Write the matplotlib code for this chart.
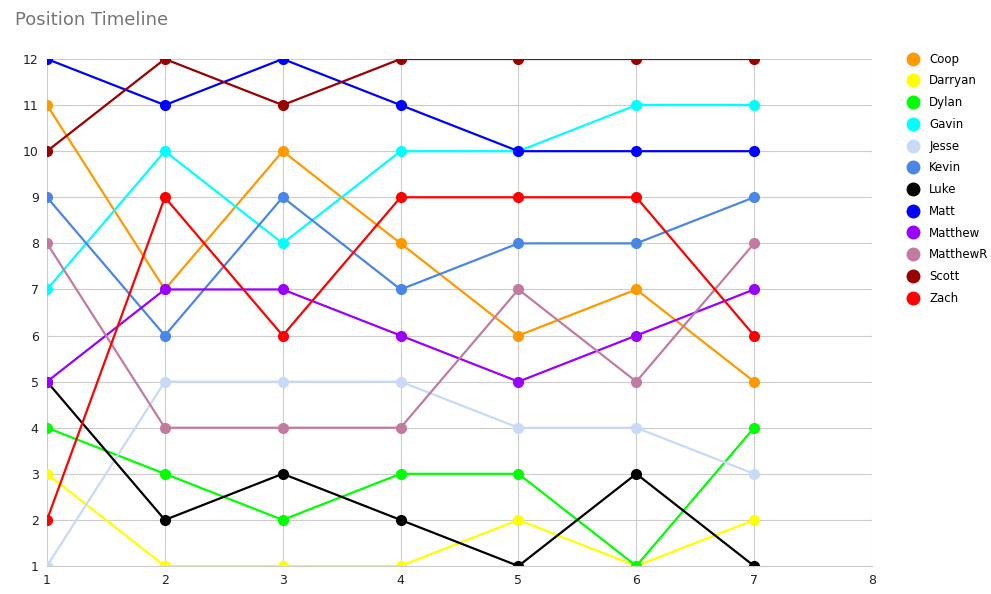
import matplotlib
matplotlib.use("Agg")
import matplotlib.pyplot as plt
from matplotlib.lines import Line2D

weeks = [1, 2, 3, 4, 5, 6, 7]
names = ["Coop", "Darryan", "Dylan", "Gavin", "Jesse", "Kevin",
         "Luke", "Matt", "Matthew", "MatthewR", "Scott", "Zach"]
colors = ["#ff9900", "#ffff00", "#00ff00", "#00ffff", "#c9daf8", "#4a86e8",
          "#000000", "#0000ff", "#9900ff", "#c27ba0", "#990000", "#ff0000"]

coop = [11, 7, 10, 8, 6, 7, 5]
darryan = [3, 1, 1, 1, 2, 1, 2]
dylan = [4, 3, 2, 3, 3, 1, 4]
gavin = [7, 10, 8, 10, 10, 11, 11]
jesse = [1, 5, 5, 5, 4, 4, 3]
kevin = [9, 6, 9, 7, 8, 8, 9]
luke = [5, 2, 3, 2, 1, 3, 1]
matt = [12, 11, 12, 11, 10, 10, 10]
matthew = [5, 7, 7, 6, 5, 6, 7]
matthewr = [8, 4, 4, 4, 7, 5, 8]
scott = [10, 12, 11, 12, 12, 12, 12]
zach = [2, 9, 6, 9, 9, 9, 6]

series = [coop, darryan, dylan, gavin, jesse, kevin,
          luke, matt, matthew, matthewr, scott, zach]

fig = plt.figure(figsize=(9.91, 5.94), dpi=100)
ax = fig.add_axes([47/991, 1 - 566/594, (872 - 47)/991, (566 - 59)/594])

for name, vals, c in zip(names, series, colors):
    ax.plot(weeks, vals, color=c, lw=1.6, marker="o", markersize=7, label=name)

ax.set_xlim(1, 8)
ax.set_ylim(1, 12)
ax.set_xticks(range(1, 9))
ax.set_yticks(range(1, 13))
ax.grid(True, color="#cccccc", lw=0.8)
ax.set_axisbelow(True)
for s in ax.spines.values():
    s.set_visible(False)
ax.spines["bottom"].set_visible(True)
ax.spines["bottom"].set_color("#cccccc")
ax.tick_params(length=0, labelsize=9, colors="#222222", pad=6)

fig.text(15/991, 1 - 20/594, "Position Timeline", fontsize=13, color="#757575",
         va="center", ha="left")

handles = [Line2D([], [], color=c, marker="o", linestyle="none", markersize=9)
           for c in colors]
fig.legend(handles, names, loc="upper left", bbox_to_anchor=(901/991, 1 - 48/594),
           frameon=False, fontsize=8.5, handletextpad=0.8, labelspacing=0.74,
           handlelength=1.2, borderaxespad=0)

fig.savefig("out.png", dpi=100)
